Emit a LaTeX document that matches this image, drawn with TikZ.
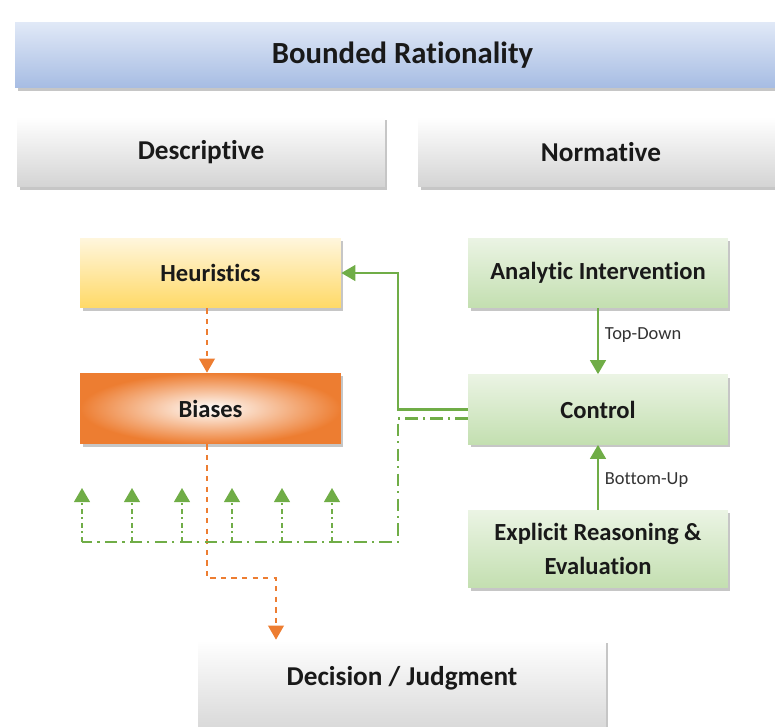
\documentclass[tikz,border=0pt]{standalone}
\usepackage{fontspec}
\setmainfont{Carlito}[Ligatures=NoCommon]
\usetikzlibrary{arrows.meta,shadows}

\definecolor{accgreen}{HTML}{70AD47}
\definecolor{accorange}{HTML}{ED7D31}
\definecolor{greentop}{HTML}{EBF4E4}
\definecolor{greenbot}{HTML}{C3DFB0}
\definecolor{bluetop}{HTML}{E1E9F7}
\definecolor{bluebot}{HTML}{A6BCE3}
\definecolor{yellowtop}{HTML}{FFF6DD}
\definecolor{yellowbot}{HTML}{FFD966}

\tikzset{
    box/.style={rectangle, font=\bfseries, text=black!90,
        drop shadow={opacity=0.45, shadow xshift=0.05cm, shadow yshift=-0.06cm}},
    graybox/.style={box, top color=white, bottom color=black!17},
    greenbox/.style={box, top color=greentop, bottom color=greenbot,
        minimum width=5.2cm, minimum height=1.4cm},
    tip/.style={-{Triangle[width=9pt,length=8pt]}},
    flow/.style={accorange, thick, dashed, tip},
    ctrl/.style={accgreen, very thick, tip},
    feed/.style={accgreen, line width=1.5pt, dash pattern=on 7pt off 3pt on 1.2pt off 3pt},
    lbl/.style={font=\fontsize{10.5}{12}\selectfont, text=black!80, right}
}

\begin{document}
\begin{tikzpicture}[x=0.02cm, y=-0.02cm]
    \useasboundingbox (0,0) rectangle (775,727);

    % headers
    \node[box, top color=bluetop, bottom color=bluebot,
        minimum width=15.5cm, minimum height=1.32cm,
        font=\fontsize{17.5}{20}\bfseries] (bounded) at (402.5,55) {Bounded Rationality};
    \node[graybox, minimum width=7.36cm, minimum height=1.4cm,
        font=\fontsize{15.5}{18}\bfseries] (descr) at (201,152) {Descriptive};
    \node[graybox, minimum width=7.32cm, minimum height=1.4cm,
        font=\fontsize{15.5}{18}\bfseries] (norm) at (601,152) {Normative};

    % descriptive side
    \node[box, top color=yellowtop, bottom color=yellowbot,
        minimum width=5.22cm, minimum height=1.4cm,
        font=\fontsize{14}{16}\bfseries] (heur) at (210.5,273) {Heuristics};
    \node[box, inner color=white, outer color=accorange,
        minimum width=5.22cm, minimum height=1.42cm,
        font=\fontsize{14}{16}\bfseries] (bias) at (210.5,408.5) {Biases};

    % normative side
    \node[greenbox, font=\fontsize{14}{16}\bfseries] (analytic) at (598,273) {Analytic Intervention};
    \node[greenbox, font=\fontsize{14}{16}\bfseries] (control) at (598,409.5) {Control};
    \node[greenbox, minimum height=1.56cm, align=center,
        font=\fontsize{14}{19}\bfseries] (explicit) at (598,549) {Explicit Reasoning \&\\Evaluation};

    \node[graybox, minimum width=8.16cm, minimum height=2cm,
        font=\fontsize{15.5}{18}\bfseries] (decision) at (402,690) {\raisebox{0.55cm}{Decision / Judgment}};

    % connectors
    \draw[flow] (heur.south -| 207,0) -- (bias.north -| 207,0);
    \coordinate (turn) at (276,578);
    \draw[flow] (bias.south -| 207,0) |- (turn) -- (turn |- decision.north);

    \draw[ctrl] (analytic) -- (control) node[lbl, pos=0.4] {Top-Down};
    \draw[ctrl] (explicit) -- (control) node[lbl, pos=0.45] {Bottom-Up};

    \draw[ctrl] (control.west) -- ++(-70,0) |- (heur.east);

    \coordinate (feedout) at ([yshift=-0.18cm]control.west);
    \coordinate (feedbase) at (82,542);
    \draw[feed] (feedout) -| (398,542) -- (feedbase);
    \foreach \x in {82,132,...,332}
        \draw[feed, tip, line width=1pt, dash pattern=on 3pt off 2pt on 1pt off 2pt] (\x,542) -- (\x,488);
\end{tikzpicture}
\end{document}
